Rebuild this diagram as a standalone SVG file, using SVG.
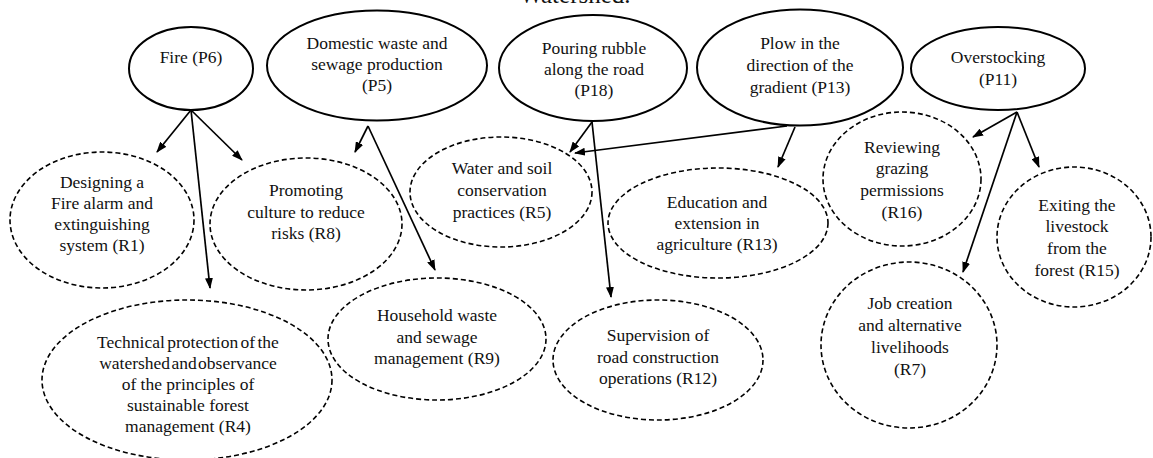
<svg xmlns="http://www.w3.org/2000/svg" width="1153" height="458" viewBox="0 0 1153 458">
<style>
text{font-family:"Liberation Serif","Times New Roman",serif;font-size:17.5px;fill:#111;text-anchor:middle}
.title{font-size:25px}
.p{fill:#fff;stroke:#000;stroke-width:2}
.r{fill:#fff;stroke:#000;stroke-width:1.6;stroke-dasharray:5 3}
.c line{stroke:#000;stroke-width:1.7}
</style>
<defs>
<marker id="ah" markerUnits="userSpaceOnUse" markerWidth="11" markerHeight="8" refX="10" refY="4" orient="auto">
<path d="M0,0 L11,4 L0,8 z" fill="#000"/>
</marker>
</defs>
<rect width="1153" height="458" fill="#fff"/>
<text class="title" x="575" y="3">Watershed.</text>

<g id="P6"><ellipse class="p" cx="191" cy="68.5" rx="62" ry="41.5"/><text x="191" y="63">Fire (P6)</text></g>
<g id="P5"><ellipse class="p" cx="377" cy="65.5" rx="110" ry="55"/><text x="377" y="49">Domestic waste and</text><text x="377" y="70">sewage production</text><text x="377" y="91">(P5)</text></g>
<g id="P18"><ellipse class="p" cx="593" cy="68" rx="94" ry="53"/><text x="594" y="54">Pouring rubble</text><text x="594" y="75">along the road</text><text x="594" y="96">(P18)</text></g>
<g id="P13"><ellipse class="p" cx="800" cy="67.5" rx="103" ry="58"/><text x="800" y="49">Plow in the</text><text x="800" y="71">direction of the</text><text x="800" y="93">gradient (P13)</text></g>
<g id="P11"><ellipse class="p" cx="998" cy="68.5" rx="87" ry="41.5"/><text x="998" y="63">Overstocking</text><text x="998" y="85">(P11)</text></g>

<g id="R1"><ellipse class="r" cx="102" cy="220" rx="92" ry="68"/><text x="102" y="188">Designing a</text><text x="102" y="209">Fire alarm and</text><text x="102" y="230">extinguishing</text><text x="102" y="251">system (R1)</text></g>
<g id="R8"><ellipse class="r" cx="306" cy="224" rx="96" ry="66"/><text x="306" y="196">Promoting</text><text x="306" y="218">culture to reduce</text><text x="306" y="239">risks (R8)</text></g>
<g id="R5"><ellipse class="r" cx="501" cy="192" rx="91" ry="55"/><text x="502" y="174">Water and soil</text><text x="502" y="196">conservation</text><text x="502" y="218">practices (R5)</text></g>
<g id="R13"><ellipse class="r" cx="718" cy="223" rx="110" ry="55"/><text x="717" y="208">Education and</text><text x="717" y="229">extension in</text><text x="717" y="250">agriculture (R13)</text></g>
<g id="R16"><ellipse class="r" cx="902" cy="179" rx="79" ry="67"/><text x="902" y="153">Reviewing</text><text x="902" y="174">grazing</text><text x="902" y="196">permissions</text><text x="902" y="218">(R16)</text></g>
<g id="R15"><ellipse class="r" cx="1074" cy="237" rx="77" ry="70"/><text x="1077" y="211">Exiting the</text><text x="1077" y="232">livestock</text><text x="1077" y="254">from the</text><text x="1077" y="276">forest (R15)</text></g>
<g id="R7"><ellipse class="r" cx="909" cy="345" rx="88" ry="83"/><text x="910" y="309">Job creation</text><text x="910" y="331">and alternative</text><text x="910" y="353">livelihoods</text><text x="910" y="375">(R7)</text></g>
<g id="R4"><ellipse class="r" cx="187" cy="380" rx="145" ry="80"/><text x="188" y="348" word-spacing="-2">Technical protection of the</text><text x="188" y="369" word-spacing="-3">watershed and observance</text><text x="188" y="390">of the principles of</text><text x="188" y="411">sustainable forest</text><text x="188" y="432">management (R4)</text></g>
<g id="R9"><ellipse class="r" cx="437" cy="339" rx="109" ry="61"/><text x="437" y="321">Household waste</text><text x="437" y="343">and sewage</text><text x="437" y="364">management (R9)</text></g>
<g id="R12"><ellipse class="r" cx="658" cy="360" rx="105" ry="60"/><text x="658" y="341">Supervision of</text><text x="658" y="363">road construction</text><text x="658" y="384">operations (R12)</text></g>

<g id="connectors" class="c" marker-end="url(#ah)">
<line x1="191" y1="110" x2="157" y2="152" marker-end="url(#ah)"/>
<line x1="191" y1="110" x2="210" y2="288" marker-end="url(#ah)"/>
<line x1="191" y1="110" x2="242" y2="160" marker-end="url(#ah)"/>
<line x1="368" y1="126" x2="355" y2="152" marker-end="url(#ah)"/>
<line x1="368" y1="126" x2="435" y2="270" marker-end="url(#ah)"/>
<line x1="592" y1="122" x2="570" y2="152" marker-end="url(#ah)"/>
<line x1="592" y1="122" x2="611" y2="297" marker-end="url(#ah)"/>
<line x1="787" y1="126" x2="575" y2="153" marker-end="url(#ah)"/>
<line x1="795" y1="127" x2="778" y2="167" marker-end="url(#ah)"/>
<line x1="1017" y1="112" x2="973" y2="137" marker-end="url(#ah)"/>
<line x1="1017" y1="112" x2="963" y2="272" marker-end="url(#ah)"/>
<line x1="1017" y1="112" x2="1039" y2="167" marker-end="url(#ah)"/>
</g>
</svg>
